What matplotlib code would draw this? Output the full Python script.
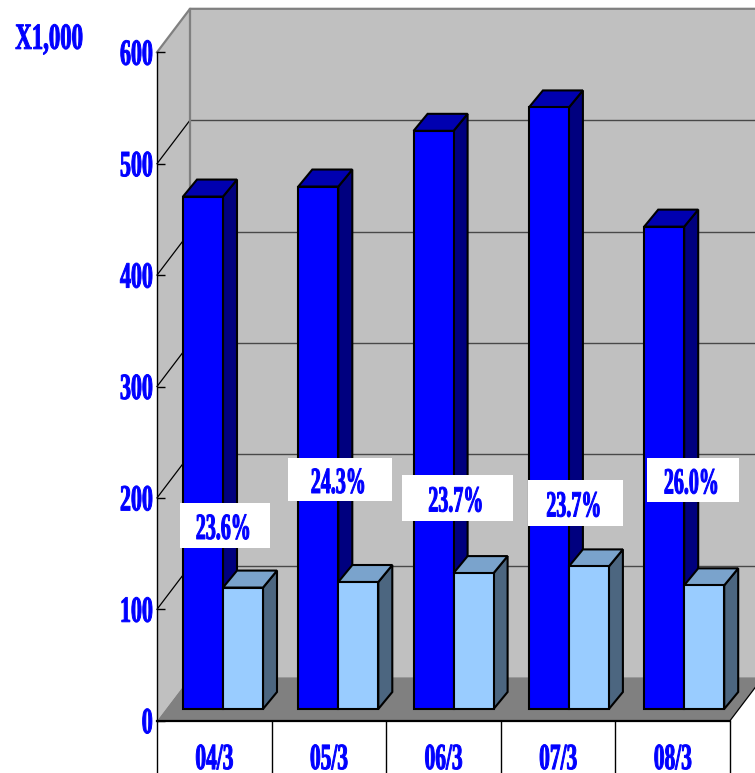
import matplotlib
matplotlib.use('Agg')
import matplotlib.pyplot as plt
from matplotlib.patches import Polygon, Rectangle
from matplotlib.patheffects import AbstractPathEffect
from matplotlib.transforms import Affine2D

categories = ['04/3', '05/3', '06/3', '07/3', '08/3']
total_values = [460, 469, 519, 540, 433]
part_values = [109, 114, 122, 128, 111]
percent_labels = ['23.6%', '24.3%', '23.7%', '23.7%', '26.0%']
y_ticks = [0, 100, 200, 300, 400, 500, 600]

W, H = 755, 773
X0, CAT_W = 157, 114.6     # pixel of first category, pixels per category
Y0, VAL_H = 720.7, 1.114   # pixel of value 0, pixels per unit

# 3d offsets, converted from pixels to data units
WALL_DX, WALL_DY = 33 / CAT_W, 43.5 / VAL_H
BAR_DX, BAR_DY = 14 / CAT_W, 17 / VAL_H
BAR_W = 40 / CAT_W
BAR_START = 26 / CAT_W
BAR_STEP = 115.3 / CAT_W
BAR_BASE = 11.7 / VAL_H

# white label boxes in pixels: left, top, right, bottom
label_boxes = [(180, 503, 270, 548), (288, 458, 392, 501), (402, 475, 513, 521),
               (528, 480, 623, 526), (647, 458, 739, 502)]

BLUE = '#0000FF'
FONT = {'family': 'Liberation Serif', 'weight': 'bold', 'color': BLUE}


class Squeeze(AbstractPathEffect):
    # the reference font is a tall narrow serif, so scale the glyphs in place
    def __init__(self, sx, sy, right=False):
        super().__init__()
        self.sx, self.sy, self.right = sx, sy, right

    def draw_path(self, renderer, gc, tpath, affine, rgbFace=None):
        box = tpath.get_extents(affine)
        cx = box.x1 if self.right else (box.x0 + box.x1) / 2
        cy = (box.y0 + box.y1) / 2
        t = affine + Affine2D().translate(-cx, -cy).scale(self.sx, self.sy).translate(cx, cy)
        gc0 = renderer.new_gc()
        gc0.copy_properties(gc)
        gc0.set_foreground(BLUE)
        gc0.set_linewidth(0.7)
        renderer.draw_path(gc0, tpath, t, rgbFace)
        gc0.restore()


def px(x):
    return (x - X0) / CAT_W


def py(y):
    return (Y0 - y) / VAL_H


def draw_box(ax, x, width, value, front, top, side, z):
    y0 = BAR_BASE
    y1 = BAR_BASE + value
    x1 = x + width
    ax.add_patch(Polygon([(x1, y0), (x1 + BAR_DX, y0 + BAR_DY), (x1 + BAR_DX, y1 + BAR_DY), (x1, y1)],
                         fc=side, ec='black', lw=1.5, zorder=z, joinstyle='miter'))
    ax.add_patch(Polygon([(x, y1), (x1, y1), (x1 + BAR_DX, y1 + BAR_DY), (x + BAR_DX, y1 + BAR_DY)],
                         fc=top, ec='black', lw=1.5, zorder=z, joinstyle='miter'))
    ax.add_patch(Rectangle((x, y0), width, value, fc=front, ec='black', lw=1.5, zorder=z + 0.1))


fig = plt.figure(figsize=(W / 100, H / 100), dpi=100)
ax = fig.add_axes([0, 0, 1, 1])
ax.set_xlim(px(0), px(W))
ax.set_ylim(py(H), py(0))

n = len(categories)

# walls and floor
ax.add_patch(Polygon([(0, 0), (WALL_DX, WALL_DY), (WALL_DX, 600 + WALL_DY), (0, 600)],
                     fc='#C0C0C0', ec='none', zorder=1))
ax.add_patch(Rectangle((WALL_DX, WALL_DY), n + 1, 600, fc='#C0C0C0', ec='none', zorder=1))
ax.add_patch(Polygon([(0, 0), (n, 0), (n + WALL_DX, WALL_DY), (WALL_DX, WALL_DY)],
                     fc='#808080', ec='none', zorder=1.2))

# gridlines on the walls
for v in y_ticks[1:-1]:
    ax.plot([0, WALL_DX], [v, v + WALL_DY], color='black', lw=0.9, zorder=1.1)
    ax.plot([WALL_DX, n + 1], [v + WALL_DY, v + WALL_DY], color='#484848', lw=1.0, zorder=1.1)
ax.plot([0, WALL_DX, n + 1], [600, 600 + WALL_DY, 600 + WALL_DY], color='#808080', lw=1.6, zorder=1.3)
ax.plot([WALL_DX, WALL_DX], [WALL_DY, 600 + WALL_DY], color='#808080', lw=1.6, zorder=1.15)
ax.plot([n, n + WALL_DX], [0, WALL_DY], color='black', lw=0.9, zorder=1.3)

# axes
for name in ['top', 'right']:
    ax.spines[name].set_visible(False)
ax.spines['left'].set_position(('data', 0))
ax.spines['left'].set_bounds(0, 600)
ax.spines['left'].set_linewidth(1.0)
ax.spines['bottom'].set_position(('data', 0))
ax.spines['bottom'].set_bounds(0, n)
ax.spines['bottom'].set_linewidth(1.6)

ax.set_yticks(y_ticks)
ax.set_yticklabels(y_ticks, fontsize=20, **FONT)
ax.tick_params(axis='y', direction='in', length=6, width=1.0, pad=3)
for label in ax.get_yticklabels():
    label.set_path_effects([Squeeze(0.79, 1.33, right=True)])

ax.set_xticks(range(n + 1))
ax.set_xticklabels([''] * (n + 1))
ax.tick_params(axis='x', which='major', direction='out', length=38, width=1.0)
ax.set_xticks([i + 0.5 for i in range(n)], minor=True)
ax.set_xticklabels(categories, minor=True, fontsize=20, **FONT)
ax.tick_params(axis='x', which='minor', length=0, pad=19)
for label in ax.get_xticklabels(minor=True):
    label.set_path_effects([Squeeze(0.77, 1.33)])
for tick, c in zip(ax.xaxis.get_major_ticks(), ['black', '#808080', 'black', '#808080', '#808080', 'black']):
    tick.tick1line.set_color(c)

# bars
for i in range(n):
    x = i * BAR_STEP + BAR_START
    draw_box(ax, x, BAR_W, total_values[i], BLUE, '#0000B0', '#00007F', 3 + i)
    draw_box(ax, x + BAR_W, BAR_W, part_values[i], '#99CCFF', '#7AA3CC', '#4C6680', 3.5 + i)

# percent labels
for (left, top, right, bottom), label in zip(label_boxes, percent_labels):
    ax.add_patch(Rectangle((px(left), py(bottom)), px(right) - px(left), py(top) - py(bottom),
                           fc='white', ec='none', zorder=10))
    t = ax.text(px((left + right) / 2 - 1.5), py((top + bottom) / 2 + 4), label, fontsize=20,
                ha='center', va='center', zorder=11, **FONT)
    t.set_path_effects([Squeeze(0.72, 1.33)])

t = ax.text(px(49), py(40), 'X1,000', fontsize=20, ha='center', va='center', **FONT)
t.set_path_effects([Squeeze(0.82, 1.33)])

fig.savefig('out.png', dpi=100)
